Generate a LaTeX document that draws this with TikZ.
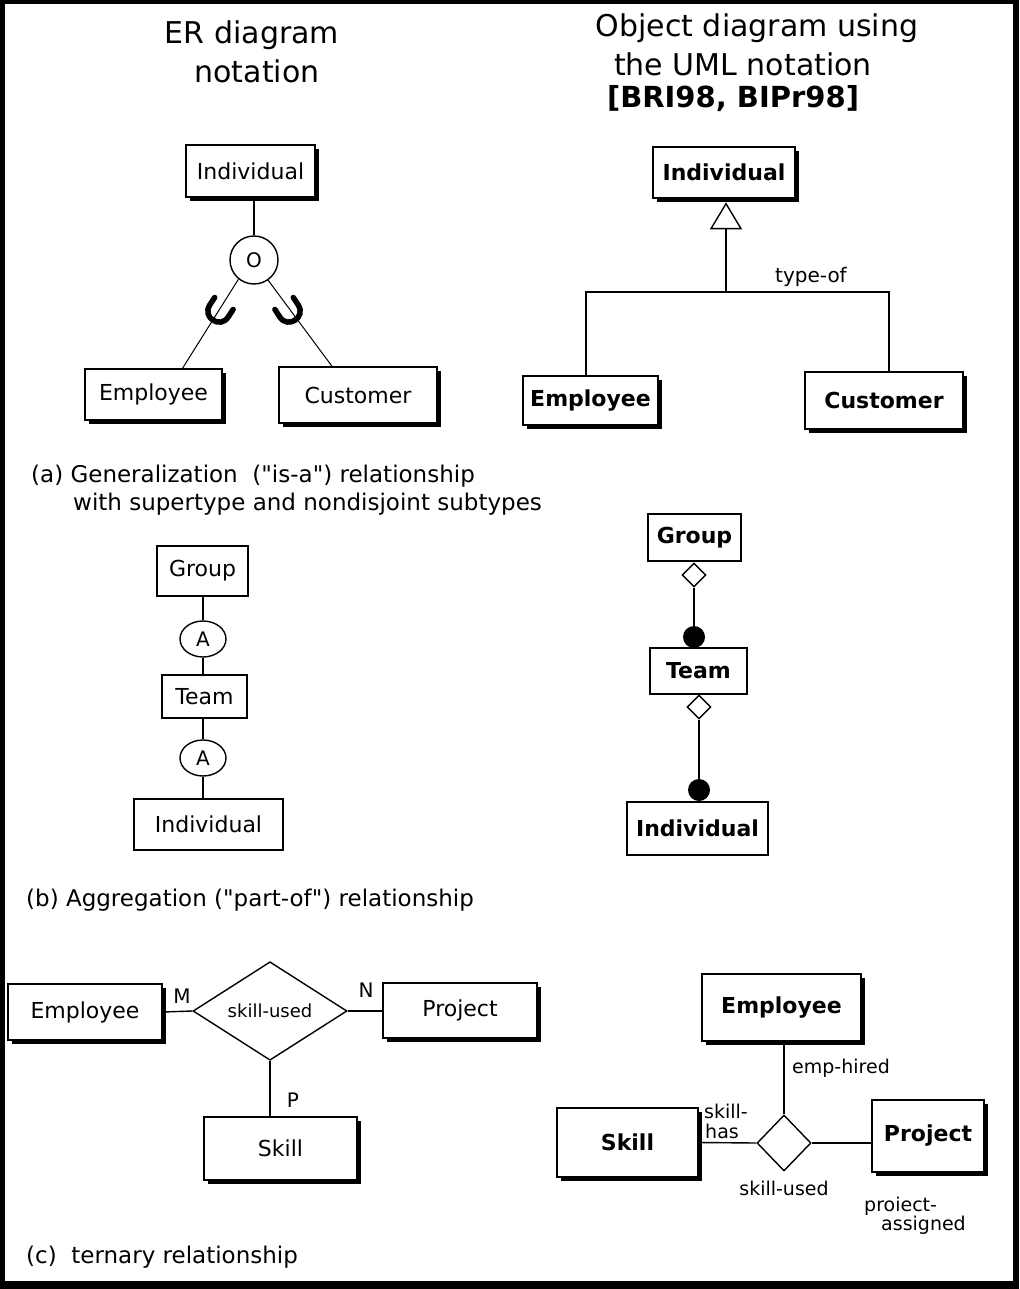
\documentclass[tikz,border=0pt]{standalone}
\usepackage{fontspec}
\setmainfont{DejaVu Sans}[Ligatures=TeXOff]
\usetikzlibrary{shapes.geometric,shadows,calc}
\begin{document}
\begin{tikzpicture}[x=1pt,y=-1pt,
  conn/.style={line width=1.4pt},
  thin conn/.style={line width=1pt},
  box/.style={draw, line width=1.4pt, fill=white, rectangle, inner sep=0pt,
    font=\fontsize{22}{26}\selectfont},
  shadowed/.style={drop shadow={shadow xshift=4pt, shadow yshift=-4pt, opacity=1, fill=black}},
  shbox/.style={box, shadowed},
  ubox/.style={box, font=\fontsize{22}{26}\selectfont\bfseries},
  ushbox/.style={ubox, shadowed},
  titletext/.style={font=\fontsize{30}{34}\selectfont, inner sep=0pt},
  captext/.style={font=\fontsize{23}{27}\selectfont, inner sep=0pt, anchor=west},
  lbl/.style={font=\fontsize{20}{24}\selectfont, inner sep=0pt},
  smalllbl/.style={font=\fontsize{19}{22}\selectfont, inner sep=0pt},
  aggdia/.style={diamond, draw, conn, fill=white, minimum width=24, minimum height=24, inner sep=0pt},
  compdot/.style={circle, fill=black, minimum size=22, inner sep=0pt},
  aellipse/.style={ellipse, draw, conn, fill=white, minimum width=46, minimum height=36,
    inner sep=0pt, font=\fontsize{20}{24}\selectfont},
  cup/.style={line width=5.5pt, line cap=round}
]
% frame
\fill[black] (0,0) rectangle (1019,1289);
\fill[white] (5,4) rectangle (1013,1281);
\useasboundingbox (0,0) rectangle (1019,1289);

% column titles
\node[titletext] (t1) at (252,35) {ER diagram};
\node[titletext] (t2) at (257,71) {notation};
\node[titletext] (t3) at (757,28) {Object diagram using};
\node[titletext] (t4) at (743,64) {the UML notation};
\node[titletext, font=\fontsize{29}{33}\selectfont\bfseries] (t5) at (733,99) {[BRI98, BIPr98]};

% ---------- (a) generalization, ER ----------
\node[shbox, minimum width=129, minimum height=52] (eind) at (250.5,171) {Individual};
\node[circle, draw, conn, fill=white, minimum size=48, inner sep=0pt,
      font=\fontsize{20}{24}\selectfont] (eo) at (254,260) {O};
\node[shbox, minimum width=137, minimum height=51] (eemp) at (153.5,394.5) {Employee};
\node[shbox, minimum width=158, minimum height=56] (ecust) at (358,395) {Customer};
\draw[conn] (eind.south -| eo.north) -- (eo.north);
\draw[thin conn] (eo.231) -- ([xshift=29pt]eemp.north);
\draw[thin conn] (eo.305) -- ([xshift=-26pt]ecust.north);
\begin{scope}[shift={(219,311)}, rotate=-33]
  \draw[cup] (-11,-9) -- (-11,0) .. controls (-11,14.7) and (11,14.7) .. (11,0) -- (11,-9);
\end{scope}
\begin{scope}[shift={(289,311)}, rotate=33]
  \draw[cup] (-11,-9) -- (-11,0) .. controls (-11,14.7) and (11,14.7) .. (11,0) -- (11,-9);
\end{scope}

% ---------- (a) generalization, UML ----------
\node[ushbox, minimum width=142, minimum height=51] (uind) at (724,172.5) {Individual};
\node[ushbox, minimum width=135, minimum height=49] (uemp) at (590.5,400.5) {Employee};
\node[ushbox, minimum width=158, minimum height=57] (ucust) at (884,400.5) {Customer};
\coordinate (tapex) at ($(uind.south)+(2,5)$);
\coordinate (tbase) at ($(tapex)+(0,25)$);
\coordinate (j1) at (586,292);
\coordinate (j2) at (889,292);
\draw[conn, fill=white] (tapex) -- ++(15,25) -- ++(-30,0) -- cycle;
\draw[conn] (tbase) -- (tbase |- j1);
\draw[conn] (uemp.north -| j1) -- (j1) -- (j2) -- (ucust.north -| j2);
\node[lbl] (typeof) at (811,277) {type-of};

\node[captext] (capa1) at (31,476) {(a) Generalization~ ("is-a") relationship};
\node[captext] (capa2) at (73,504) {with supertype and nondisjoint subtypes};

% ---------- (b) aggregation, ER ----------
\node[box, minimum width=91, minimum height=50] (egroup) at (202.5,571) {Group};
\node[aellipse] (ea1) at (203,639) {A};
\node[box, minimum width=85, minimum height=43] (eteam) at (204.5,696.5) {Team};
\node[aellipse] (ea2) at (203,758) {A};
\node[box, minimum width=149, minimum height=51] (eind2) at (208.5,824.5) {Individual};
\draw[conn] (ea1.north |- egroup.south) -- (ea1.north);
\draw[conn] (ea1.south) -- (ea1.south |- eteam.north);
\draw[conn] (ea2.north |- eteam.south) -- (ea2.north);
\draw[conn] (ea2.south) -- (ea2.south |- eind2.north);

% ---------- (b) aggregation, UML ----------
\node[ubox, minimum width=93, minimum height=47] (ugroup) at (694.5,537.5) {Group};
\node[aggdia] (ud1) at (694,575) {};
\node[compdot] (uc1) at (694,637) {};
\node[ubox, minimum width=97, minimum height=46] (uteam) at (698.5,671) {Team};
\node[aggdia] (ud2) at (699,707) {};
\node[compdot] (uc2) at (699,790) {};
\node[ubox, minimum width=141, minimum height=53] (uind2) at (697.5,828.5) {Individual};
\draw[conn] (ud1.south) -- (uc1.north);
\draw[conn] (ud2.south) -- (uc2.north);

\node[captext] (capb) at (26,900) {(b) Aggregation ("part-of") relationship};

% ---------- (c) ternary, ER ----------
\node[shbox, minimum width=154, minimum height=56] (cemp) at (85,1012) {Employee};
\node[diamond, draw, conn, fill=white, minimum width=154, minimum height=91, inner sep=0pt,
      font=\fontsize{18}{22}\selectfont] (cdia) at (270,1011) {skill-used};
\node[shbox, minimum width=154, minimum height=55] (cproj) at (460,1010.5) {Project};
\node[shbox, minimum width=153, minimum height=63] (cskill) at (280.5,1148.5) {Skill};
\draw[conn] (cemp.east) -- (cdia.west);
\draw[conn] (cdia.east) -- (cdia.east -| cproj.west);
\draw[conn] (cdia.south) -- (cdia.south |- cskill.north);
\node[lbl] (lm) at (182,996) {M};
\node[lbl] (ln) at (366,990) {N};
\node[lbl] (lp) at (293,1100) {P};

% ---------- (c) ternary, UML ----------
\node[ushbox, minimum width=159, minimum height=67] (uemp2) at (781.5,1007.5) {Employee};
\node[diamond, draw, conn, fill=white, minimum width=54, minimum height=56, inner sep=0pt] (udia) at (784,1143) {};
\node[ushbox, minimum width=141, minimum height=69] (uskill) at (627.5,1142.5) {Skill};
\node[ushbox, minimum width=112, minimum height=72] (uproj) at (928,1136) {Project};
\draw[conn] (udia.north |- uemp2.south) -- (udia.north);
\draw[conn] (uskill.east) -- (udia.west);
\draw[conn] (udia.east) -- (udia.east -| uproj.west);
\node[smalllbl, anchor=west] (lemp) at (792,1068) {emp-hired};
\node[smalllbl, anchor=west] (lsk1) at (704,1111) {skill-};
\node[smalllbl, anchor=west] (lsk2) at (705,1131) {has};
\node[smalllbl] (lsku) at (784,1188) {skill-used};
\node[smalllbl, anchor=west] (lpr1) at (864,1206) {proiect-};
\node[smalllbl, anchor=west] (lpr2) at (881,1225) {assigned};

\node[captext] (capc) at (26,1257) {(c)~ ternary relationship};
\end{tikzpicture}
\end{document}
